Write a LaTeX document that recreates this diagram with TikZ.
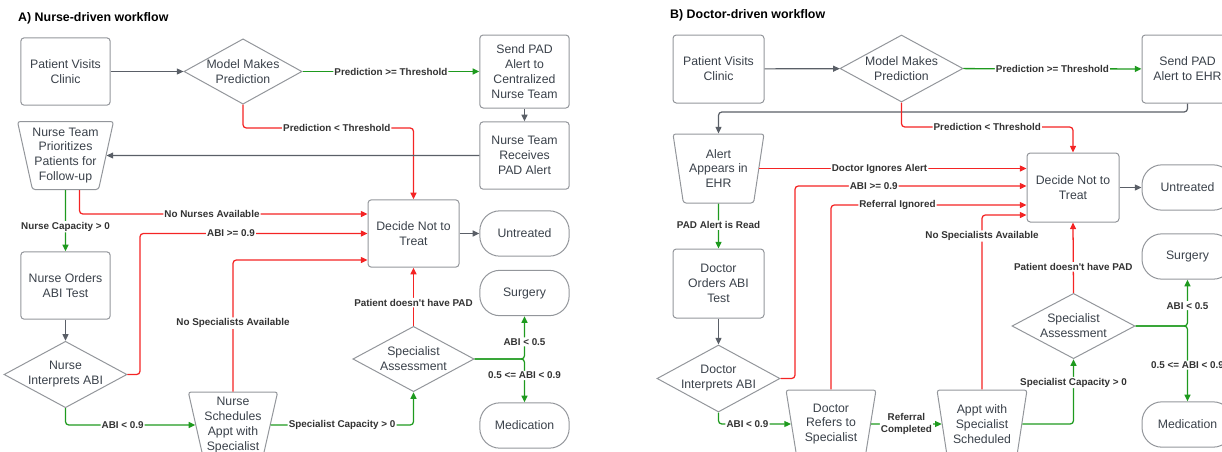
\documentclass[tikz,border=0pt]{standalone}
\usepackage{fontspec}
\setmainfont{Liberation Sans}
\usetikzlibrary{positioning,arrows.meta,shapes.geometric,calc}
\definecolor{padtext}{HTML}{3A414A}
\definecolor{padline}{HTML}{93969B}
\definecolor{padgray}{HTML}{5A5F67}
\definecolor{padgreen}{HTML}{1E9A1E}
\definecolor{padred}{HTML}{F42424}
\definecolor{padlabel}{HTML}{333333}
\tikzset{
  pad text/.style={text=padtext,font=\fontsize{9.2}{11.2}\selectfont,align=center},
  pad box/.style={pad text,draw=padline,line width=0.75pt,rounded corners=2.5pt,
    minimum width=67pt,minimum height=50.5pt,inner sep=1pt},
  pad decision/.style={pad text,draw=padline,line width=0.75pt,diamond,aspect=1.85,
    inner sep=0pt,minimum width=91pt,minimum height=49pt},
  pad manual/.style={pad text,draw=padline,line width=0.75pt,trapezium,
    shape border rotate=180,trapezium angle=75,trapezium stretches body,
    minimum width=67pt,minimum height=51pt,inner sep=0pt,rounded corners=2pt},
  pad end/.style={pad text,draw=padline,line width=0.75pt,rounded corners=15pt,
    minimum width=67pt,minimum height=34pt},
  pad flow/.style={-{Triangle[length=5pt,width=4.5pt]},line width=0.9pt,padgray,
    rounded corners=2.5pt},
  pad yes/.style={pad flow,padgreen,line width=0.95pt},
  pad no/.style={pad flow,padred,line width=0.95pt},
  pad label/.style={font=\fontsize{7.4}{8.4}\selectfont\bfseries,text=padlabel,
    fill=white,inner sep=0.8pt,align=center},
  pad panel title/.style={font=\fontsize{9.3}{11}\selectfont\bfseries,anchor=west}
}

\begin{document}
\begin{tikzpicture}[x=0.75pt,y=-0.75pt]
  \useasboundingbox (0,0) rectangle (1222,451);

  % Nurse-driven workflow.
  \begin{scope}
    \node[pad panel title] (a-title) at (13.5,18) {A) Nurse-driven workflow};
    \node[pad box] (a-visit) at (65.5,71.5) {Patient Visits\\Clinic};
    \node[pad decision,minimum width=88.5pt] (a-model) at (243,71.5) {Model Makes\\Prediction};
    \node[pad box,minimum height=54.75pt] (a-send) at (524.5,71.5)
      {Send PAD\\Alert to\\Centralized\\Nurse Team};
    \node[pad box] (a-receive) at (524.5,155.5) {Nurse Team\\Receives\\PAD Alert};
    \node[pad manual] (a-prior) at (65.5,155.5)
      {Nurse Team\\Prioritizes\\Patients for\\Follow-up};
    \node[pad box,minimum width=68.25pt] (a-decide) at (413.5,233.5) {Decide Not to\\Treat};
    \node[pad end] (a-untreated) at (524.5,233.5) {Untreated};
    \node[pad box] (a-order) at (65.5,285.5) {Nurse Orders\\ABI Test};
    \node[pad end] (a-surgery) at (524.5,293) {Surgery};
    \node[pad decision] (a-assess) at (413.5,359) {Specialist\\Assessment};
    \node[pad decision] (a-interp) at (65.5,374.5) {Nurse\\Interprets ABI};
    \node[pad manual,minimum height=49.5pt] (a-sched) at (233,425)
      {Nurse\\Schedules\\Appt with\\Specialist};
    \node[pad end] (a-med) at (524.5,425.5) {Medication};

    \draw[pad flow] (a-visit) -- (a-model);
    \draw[pad yes] (a-model) -- node[pad label] {Prediction >= Threshold} (a-send);
    \draw[pad no] (a-model.south) -- (a-model.south |- 0,128)
      -- node[pad label,pos=0.55] {Prediction < Threshold} (a-decide.north |- 0,128)
      -- (a-decide.north);
    \draw[pad flow] (a-send) -- (a-receive);
    \draw[pad flow] (a-receive.west) -- (a-prior.east);
    \draw[pad yes] (a-prior.south) -- node[pad label,pos=0.6] {Nurse Capacity > 0} (a-order.north);
    \draw[pad no] ([xshift=10.5pt]a-prior.south) |-
      node[pad label,pos=0.73] {No Nurses Available} (a-decide.west |- 0,214);
    \draw[pad flow] (a-order) -- (a-interp);
    \draw[pad no] (a-interp.east) -- (a-interp.east -| 140,0) |-
      node[pad label,pos=0.7] {ABI >= 0.9} (a-decide.west);
    \draw[pad yes] (a-interp.south) |- node[pad label,pos=0.72] {ABI < 0.9} (a-sched.west);
    \draw[pad no] (a-sched.north) --
      node[pad label,pos=0.52] {No Specialists Available} (a-sched.north |- 0,260)
      -- (a-decide.west |- 0,260);
    \draw[pad yes] (a-sched.east) -|
      node[pad label,pos=0.25] {Specialist Capacity > 0} (a-assess.south);
    \draw[pad no] (a-assess.north) --
      node[pad label,pos=0.4] {Patient doesn\textquotesingle t have PAD} (a-decide.south);
    \draw[pad flow] (a-decide) -- (a-untreated);
    \draw[pad yes] (a-assess.east) -| node[pad label,pos=0.7] {ABI < 0.5} (a-surgery.south);
    \draw[pad yes] (a-assess.east) -| node[pad label,pos=0.69] {0.5 <= ABI < 0.9} (a-med.north);
  \end{scope}

  % Doctor-driven workflow.
  \begin{scope}[shift={(640,0)}]
    \node[pad panel title] (b-title) at (25.5,15) {B) Doctor-driven workflow};
    \node[pad box,minimum width=68.25pt,minimum height=51pt] (b-visit) at (78.5,69)
      {Patient Visits\\Clinic};
    \node[pad decision,minimum width=92.25pt,minimum height=50.25pt] (b-model) at (261.5,68.5)
      {Model Makes\\Prediction};
    \node[pad box,minimum width=68.25pt,minimum height=51pt] (b-send) at (547.5,69)
      {Send PAD\\Alert to EHR};
    \node[pad manual,minimum width=68.25pt,minimum height=51.75pt] (b-alert) at (78.5,168.5)
      {Alert\\Appears in\\EHR};
    \node[pad box,minimum width=69pt,minimum height=51.75pt] (b-decide) at (433,187.5)
      {Decide Not to\\Treat};
    \node[pad end,minimum width=68.25pt] (b-untreated) at (547.5,187.5) {Untreated};
    \node[pad end,minimum width=68.25pt] (b-surgery) at (547.5,256.5) {Surgery};
    \node[pad box,minimum width=68.25pt,minimum height=51.75pt] (b-order) at (78.5,283.5)
      {Doctor\\Orders ABI\\Test};
    \node[pad decision,minimum width=92.25pt] (b-assess) at (433.5,326) {Specialist\\Assessment};
    \node[pad decision,minimum width=92.25pt,minimum height=50.25pt] (b-interp) at (78.5,378.5)
      {Doctor\\Interprets ABI};
    \node[pad manual,minimum width=67.5pt] (b-refer) at (191,424) {Doctor\\Refers to\\Specialist};
    \node[pad manual,minimum width=67.5pt] (b-appt) at (342,424) {Appt with\\Specialist\\Scheduled};
    \node[pad end,minimum width=68.25pt] (b-med) at (547.5,424.5) {Medication};

    \draw[pad flow] (b-visit) -- (b-model);
    \draw[pad yes] (b-model) -- node[pad label] {Prediction >= Threshold} (b-send);
    \draw[pad flow] (b-send.south) -- (b-send.south |- 0,112) -- (b-alert.north |- 0,112)
      -- (b-alert.north);
    \draw[pad no] (b-model.south) -- (b-model.south |- 0,127)
      -- node[pad label] {Prediction < Threshold} (b-decide.north |- 0,127) -- (b-decide.north);
    \draw[pad no] (b-alert.east) --
      node[pad label,pos=0.45] {Doctor Ignores Alert} (b-alert.east -| b-decide.west);
    \draw[pad no] (b-interp.east) -- (b-interp.east -| 155,0) |-
      node[pad label,pos=0.67] {ABI >= 0.9} (b-decide.west |- 0,186);
    \draw[pad no] (b-refer.north) |-
      node[pad label,pos=0.67] {Referral Ignored} (b-decide.west |- 0,205);
    \draw[pad no] (b-appt.north) |-
      node[pad label,pos=0.44] {No Specialists Available} (b-decide.west |- 0,215);
    \draw[pad yes] (b-alert.south) -- node[pad label,pos=0.48] {PAD Alert is Read} (b-order.north);
    \draw[pad flow] (b-order) -- (b-interp);
    \draw[pad yes] (b-interp.south) |- node[pad label,pos=0.7] {ABI < 0.9} (b-refer.west);
    \draw[pad yes] (b-refer.east) -- node[pad label] {Referral\\Completed} (b-appt.west);
    \draw[pad yes] (b-appt.east) -|
      node[pad label,pos=0.82] {Specialist Capacity > 0} (b-assess.south);
    \draw[pad no] (b-assess.north) --
      node[pad label,pos=0.37] {Patient doesn\textquotesingle t have PAD} (b-decide.south);
    \draw[pad flow] (b-decide) -- (b-untreated);
    \draw[pad yes] (b-assess.east) -| node[pad label,pos=0.72] {ABI < 0.5} (b-surgery.south);
    \draw[pad yes] (b-assess.east) -| node[pad label,pos=0.76] {0.5 <= ABI < 0.9} (b-med.north);
  \end{scope}
\end{tikzpicture}
\end{document}
